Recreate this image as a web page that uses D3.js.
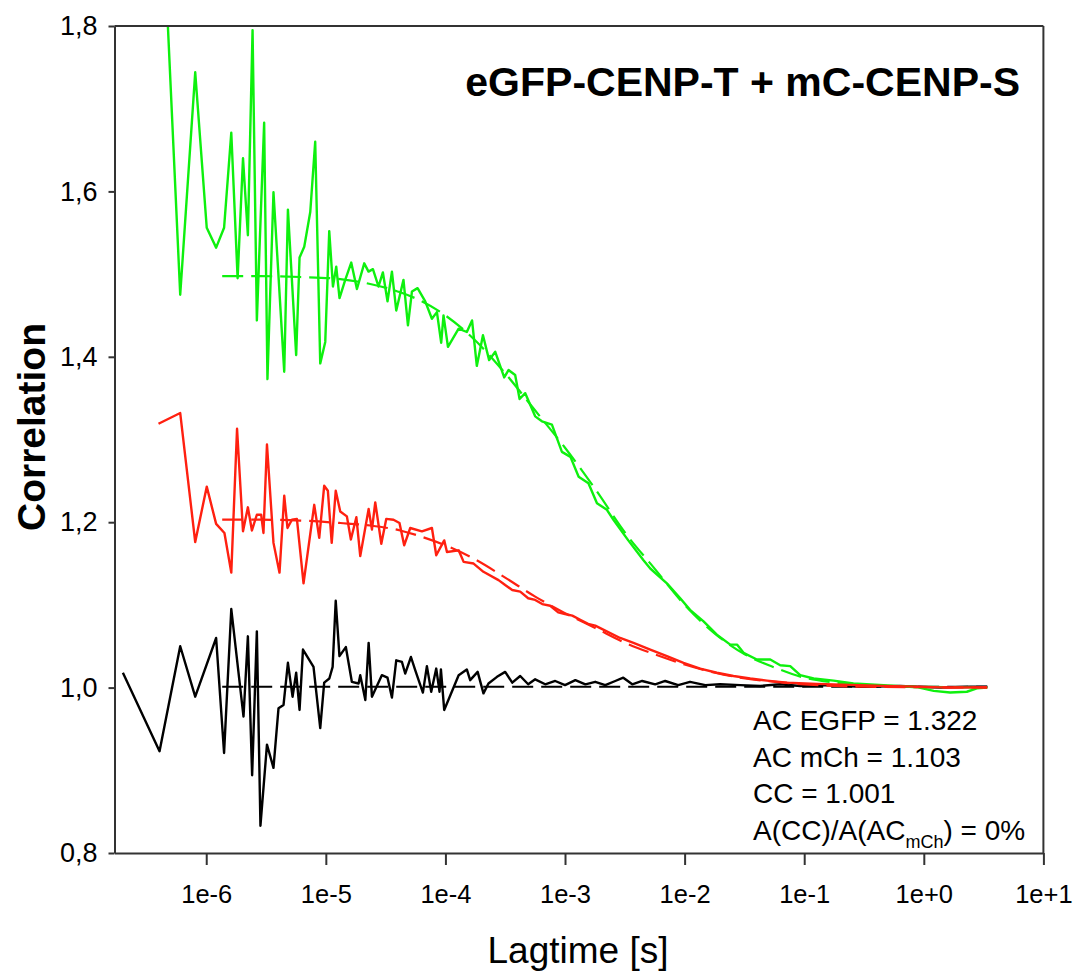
<!DOCTYPE html>
<html>
<head>
<meta charset="utf-8">
<script src="https://cdn.jsdelivr.net/npm/d3@7"></script>
<style>
  html, body { margin: 0; padding: 0; background: #fff; }
  svg { display: block; }
  text { font-family: "Liberation Sans", Arial, Helvetica, sans-serif; }
</style>
</head>
<body>
<svg id="chart" width="1077" height="971"></svg>
<script>
// ---------- axis ticks ----------
const lagTicks = [1e-6, 1e-5, 1e-4, 1e-3, 1e-2, 1e-1, 1, 10];
const lagTickLabels = ["1e-6", "1e-5", "1e-4", "1e-3", "1e-2", "1e-1", "1e+0", "1e+1"];
const corrTicks = [0.8, 1.0, 1.2, 1.4, 1.6, 1.8];
const corrTickLabels = ["0,8", "1,0", "1,2", "1,4", "1,6", "1,8"];

// ---------- eGFP autocorrelation (green) ----------
const greenLag = [4.07e-7, 6.06e-7, 8.09e-7, 1.01e-6, 1.21e-6, 1.41e-6, 1.62e-6, 1.83e-6, 2.03e-6, 2.23e-6,
  2.44e-6, 2.65e-6, 3.05e-6, 3.25e-6, 3.65e-6, 4.49e-6, 4.82e-6, 5.65e-6, 6.03e-6, 6.60e-6,
  7.41e-6, 8.15e-6, 8.98e-6, 9.89e-6, 1.068e-5, 1.147e-5, 1.222e-5, 1.302e-5, 1.453e-5, 1.631e-5,
  1.82e-5, 2.095e-5, 2.275e-5, 2.476e-5, 2.758e-5, 3.00e-5, 3.28e-5, 3.57e-5, 3.88e-5, 4.46e-5,
  4.86e-5, 5.25e-5, 5.85e-5, 6.78e-5, 7.71e-5, 8.49e-5, 9.22e-5, 9.64e-5, 1.05e-4, 1.29e-4,
  1.51e-4, 1.67e-4, 1.83e-4, 2.06e-4, 2.32e-4, 2.61e-4, 3.10e-4, 3.37e-4, 3.83e-4, 4.17e-4,
  4.65e-4, 5.63e-4, 6.41e-4, 7.77e-4, 9.42e-4, 1.11e-3, 1.30e-3, 1.57e-3, 1.85e-3, 2.24e-3,
  2.54e-3, 3.38e-3, 4.53e-3, 5.16e-3, 7.11e-3, 9.19e-3, 1.11e-2, 1.44e-2, 1.86e-2, 2.41e-2,
  2.74e-2, 3.11e-2, 4.02e-2, 5.20e-2, 6.30e-2, 7.64e-2, 9.26e-2, 0.120, 0.176, 0.258,
  0.460, 0.876, 1.21, 1.66, 2.29, 2.78, 3.37];
const greenCorr = [2.02, 1.475, 1.744, 1.556, 1.532, 1.556, 1.671, 1.495, 1.640, 1.547,
  1.795, 1.444, 1.683, 1.373, 1.599, 1.382, 1.578, 1.402, 1.520, 1.533,
  1.575, 1.660, 1.392, 1.418, 1.552, 1.485, 1.509, 1.471, 1.493, 1.514,
  1.482, 1.513, 1.503, 1.506, 1.485, 1.502, 1.467, 1.503, 1.456, 1.493,
  1.438, 1.479, 1.483, 1.467, 1.446, 1.454, 1.417, 1.450, 1.412, 1.434,
  1.430, 1.444, 1.389, 1.426, 1.396, 1.406, 1.375, 1.384, 1.378, 1.349,
  1.356, 1.328, 1.322, 1.318, 1.285, 1.279, 1.255, 1.247, 1.223, 1.215,
  1.203, 1.178, 1.154, 1.144, 1.126, 1.108, 1.094, 1.080, 1.064, 1.052,
  1.052, 1.042, 1.034, 1.034, 1.027, 1.026, 1.015, 1.011, 1.0085, 1.005,
  1.003, 1.0005, 0.996, 0.994, 0.995, 0.999, 1.000];

// ---------- mCherry autocorrelation (red) ----------
const redLag = [3.99e-7, 6.06e-7, 8.09e-7, 1.01e-6, 1.21e-6, 1.42e-6, 1.62e-6, 1.81e-6, 2.03e-6, 2.23e-6,
  2.41e-6, 2.65e-6, 2.88e-6, 3.01e-6, 3.22e-6, 3.65e-6, 4.10e-6, 4.49e-6, 4.78e-6, 5.21e-6,
  5.73e-6, 6.51e-6, 8.00e-6, 8.81e-6, 9.69e-6, 1.04e-5, 1.12e-5, 1.21e-5, 1.32e-5, 1.50e-5,
  1.62e-5, 1.80e-5, 1.94e-5, 2.28e-5, 2.43e-5, 2.59e-5, 2.91e-5, 3.20e-5, 3.68e-5, 4.13e-5,
  4.52e-5, 5.08e-5, 6.36e-5, 7.71e-5, 8.38e-5, 9.77e-5, 1.03e-4, 1.29e-4, 1.42e-4, 1.72e-4,
  2.08e-4, 2.78e-4, 3.16e-4, 3.62e-4, 4.22e-4, 4.92e-4, 5.63e-4, 6.45e-4, 7.52e-4, 8.77e-4,
  1.00e-3, 1.15e-3, 1.34e-3, 1.56e-3, 1.79e-3, 1.97e-3, 2.89e-3, 3.74e-3, 5.16e-3, 7.11e-3,
  9.79e-3, 1.35e-2, 1.86e-2, 2.56e-2, 3.54e-2, 4.88e-2, 7.17e-2, 0.128, 0.242, 0.460,
  0.876, 1.66, 3.37];
const redCorr = [1.319, 1.332, 1.176, 1.243, 1.198, 1.187, 1.139, 1.313, 1.189, 1.218,
  1.190, 1.209, 1.209, 1.187, 1.294, 1.175, 1.139, 1.232, 1.193, 1.203,
  1.204, 1.126, 1.221, 1.181, 1.244, 1.238, 1.175, 1.238, 1.213, 1.207,
  1.179, 1.206, 1.159, 1.216, 1.191, 1.224, 1.174, 1.204, 1.203, 1.199,
  1.172, 1.193, 1.189, 1.193, 1.160, 1.178, 1.164, 1.166, 1.152, 1.150,
  1.140, 1.130, 1.124, 1.118, 1.116, 1.108, 1.106, 1.101, 1.099, 1.091,
  1.089, 1.087, 1.082, 1.077, 1.075, 1.072, 1.060, 1.054, 1.046, 1.038,
  1.030, 1.023, 1.018, 1.014, 1.011, 1.0085, 1.006, 1.0045, 1.0033, 1.002,
  1.0012, 1.000, 1.0005];

// ---------- cross-correlation (black) ----------
const blackLag = [2.01e-7, 4.07e-7, 6.06e-7, 8.09e-7, 1.21e-6, 1.41e-6, 1.62e-6, 2.05e-6, 2.23e-6, 2.42e-6,
  2.65e-6, 2.84e-6, 3.22e-6, 3.65e-6, 4.02e-6, 4.43e-6, 4.82e-6, 5.27e-6, 5.65e-6, 6.03e-6,
  6.44e-6, 7.89e-6, 8.98e-6, 9.69e-6, 1.07e-5, 1.14e-5, 1.21e-5, 1.30e-5, 1.47e-5, 1.65e-5,
  1.88e-5, 1.94e-5, 2.14e-5, 2.28e-5, 2.43e-5, 2.94e-5, 3.28e-5, 3.57e-5, 3.88e-5, 4.33e-5,
  4.61e-5, 5.15e-5, 5.59e-5, 6.48e-5, 7.00e-5, 7.61e-5, 8.38e-5, 8.93e-5, 9.17e-5, 9.77e-5,
  1.29e-4, 1.51e-4, 1.61e-4, 1.86e-4, 2.08e-4, 2.29e-4, 2.70e-4, 3.16e-4, 3.62e-4, 4.22e-4,
  4.92e-4, 5.63e-4, 6.83e-4, 8.28e-4, 1.00e-3, 1.22e-3, 1.48e-3, 1.79e-3, 2.17e-3, 2.63e-3,
  3.07e-3, 3.65e-3, 4.42e-3, 5.68e-3, 6.88e-3, 8.84e-3, 1.11e-2, 1.49e-2, 1.98e-2, 2.92e-2,
  4.29e-2, 6.30e-2, 9.26e-2, 0.165, 0.294, 0.635, 1.37, 2.44, 3.39];
const blackCorr = [1.018, 0.923, 1.050, 0.989, 1.060, 0.921, 1.095, 0.965, 1.062, 0.894,
  1.068, 0.833, 0.931, 0.903, 0.975, 0.979, 1.030, 0.989, 1.018, 0.973,
  1.046, 1.025, 0.951, 1.006, 1.011, 1.025, 1.105, 1.038, 1.049, 1.007,
  1.005, 1.015, 0.985, 1.054, 0.989, 1.015, 1.012, 0.988, 1.033, 1.031,
  1.017, 1.037, 1.021, 0.994, 1.026, 0.995, 1.023, 0.995, 1.022, 0.973,
  1.015, 1.022, 1.009, 1.019, 0.993, 1.005, 1.013, 1.019, 1.006, 1.014,
  1.004, 1.010, 1.004, 1.008, 1.003, 1.009, 1.004, 1.007, 1.003, 1.008,
  1.012, 1.004, 1.008, 1.004, 1.008, 1.003, 1.007, 1.003, 1.004, 1.003,
  1.002, 1.004, 1.002, 1.003, 1.001, 1.002, 1.000, 1.001, 1.001];

// ---------- fitted curves (dashed) ----------
const fitLag = [1.36e-6, 2.83e-6, 6.11e-6, 1.32e-5, 2.35e-5, 4.19e-5, 6.16e-5, 1.0e-4, 1.77e-4, 3.16e-4,
  5.63e-4, 1.0e-3, 1.79e-3, 3.19e-3, 5.68e-3, 1.0e-2, 1.80e-2, 3.21e-2, 5.72e-2, 0.1,
  0.182, 0.324, 1.0, 3.4];
const greenFit = [1.4975, 1.4975, 1.4965, 1.494, 1.488, 1.478, 1.468, 1.450, 1.420, 1.380,
  1.335, 1.290, 1.240, 1.187, 1.143, 1.100, 1.065, 1.040, 1.024, 1.012,
  1.006, 1.003, 1.001, 1.000];
const redFit = [1.203, 1.203, 1.202, 1.199, 1.196, 1.190, 1.183, 1.172, 1.155, 1.133,
  1.110, 1.090, 1.072, 1.054, 1.040, 1.028, 1.018, 1.011, 1.007, 1.004,
  1.002, 1.001, 1.0005, 1.000];
const blackFit = [1.001, 1.001, 1.001, 1.001, 1.001, 1.001, 1.001, 1.001, 1.001, 1.001,
  1.001, 1.001, 1.001, 1.001, 1.001, 1.001, 1.001, 1.001, 1.001, 1.001,
  1.001, 1.001, 1.001, 1.001];

// ---------- text ----------
const titleText = "eGFP-CENP-T + mC-CENP-S";
const xTitle = "Lagtime [s]";
const yTitle = "Correlation";
const noteLines = ["AC EGFP = 1.322", "AC mCh = 1.103", "CC = 1.001"];

// ---------- drawing ----------
const svg = d3.select("#chart");
const L = 114.5, R = 1043.4, T = 26, B = 853;

const x = d3.scaleLog().domain([1.71e-7, 10]).range([L, R]);
const y = d3.scaleLinear().domain([0.8, 1.8]).range([B, T]);

svg.append("defs").append("clipPath").attr("id", "plotclip")
  .append("rect").attr("x", L).attr("y", T).attr("width", R - L).attr("height", B - T);

const line = d3.line().x(d => x(d[0])).y(d => y(d[1]));
const plot = svg.append("g").attr("clip-path", "url(#plotclip)");

const GREEN = "#0ef00e", RED = "#ff2010", BLACK = "#000000";

function drawData(lag, corr, color) {
  plot.append("path").datum(d3.zip(lag, corr))
    .attr("d", line).attr("fill", "none").attr("stroke", color)
    .attr("stroke-width", 2.4).attr("stroke-linejoin", "round");
}
function drawFit(lag, corr, color) {
  plot.append("path").datum(d3.zip(lag, corr))
    .attr("d", line.curve(d3.curveMonotoneX)).attr("fill", "none").attr("stroke", color)
    .attr("stroke-width", 2.2).attr("stroke-dasharray", "21,8");
  line.curve(d3.curveLinear);
}

drawData(blackLag, blackCorr, BLACK);
drawFit(fitLag, blackFit, BLACK);
drawData(greenLag, greenCorr, GREEN);
drawFit(fitLag, greenFit, GREEN);
drawData(redLag, redCorr, RED);
drawFit(fitLag, redFit, RED);

// frame
const AX = "#333333";
svg.append("line").attr("x1", L).attr("x2", R).attr("y1", T).attr("y2", T).attr("stroke", AX).attr("stroke-width", 2);
svg.append("line").attr("x1", R).attr("x2", R).attr("y1", T).attr("y2", B).attr("stroke", AX).attr("stroke-width", 2);

// x axis
const xAxis = d3.axisBottom(x).tickValues(lagTicks)
  .tickFormat((d, i) => lagTickLabels[i]).tickSize(12).tickSizeOuter(0).tickPadding(20);
const gx = svg.append("g").attr("transform", `translate(0,${B})`).call(xAxis);
gx.select(".domain").attr("stroke", AX).attr("stroke-width", 2);
gx.selectAll(".tick line").attr("stroke", AX).attr("stroke-width", 2);
gx.selectAll(".tick text").attr("font-size", 25.5).attr("fill", "#000")
  .attr("font-family", "'Liberation Sans', Arial, sans-serif");

// y axis
const yAxis = d3.axisLeft(y).tickValues(corrTicks)
  .tickFormat((d, i) => corrTickLabels[i]).tickSize(6).tickSizeOuter(0).tickPadding(11);
const gy = svg.append("g").attr("transform", `translate(${L},0)`).call(yAxis);
gy.select(".domain").attr("stroke", AX).attr("stroke-width", 2);
gy.selectAll(".tick line").attr("stroke", AX).attr("stroke-width", 2);
gy.selectAll(".tick text").attr("font-size", 27).attr("fill", "#000")
  .attr("font-family", "'Liberation Sans', Arial, sans-serif");

// titles
svg.append("text").attr("x", 1020).attr("y", 96).attr("text-anchor", "end")
  .attr("font-size", 41).attr("font-weight", "bold").text(titleText);
svg.append("text").attr("x", 578).attr("y", 963).attr("text-anchor", "middle")
  .attr("font-size", 37).text(xTitle);
svg.append("text").attr("transform", "translate(45,427) rotate(-90)").attr("text-anchor", "middle")
  .attr("font-size", 39).attr("font-weight", "bold").text(yTitle);

// annotation
const noteY = [730, 767, 803, 840];
noteLines.forEach((t, i) => {
  svg.append("text").attr("x", 753).attr("y", noteY[i]).attr("font-size", 28).text(t);
});
const last = svg.append("text").attr("x", 753).attr("y", noteY[3]).attr("font-size", 28);
last.append("tspan").text("A(CC)/A(AC");
last.append("tspan").attr("font-size", 18).attr("dy", 8).text("mCh");
last.append("tspan").attr("dy", -8).text(") = 0%");
</script>
</body>
</html>
